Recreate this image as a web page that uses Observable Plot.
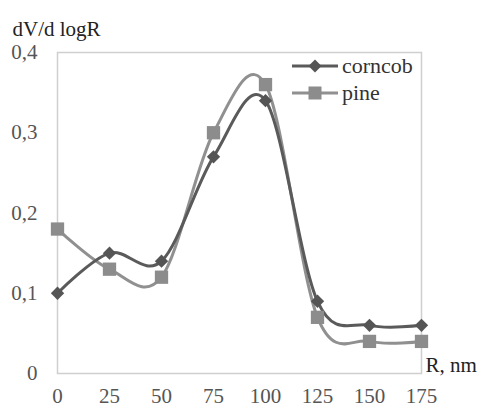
<!DOCTYPE html>
<html>
<head>
<meta charset="utf-8">
<script src="https://cdn.jsdelivr.net/npm/d3@7"></script>
<script src="https://cdn.jsdelivr.net/npm/@observablehq/plot@0.6"></script>
<style>
  html, body { margin: 0; padding: 0; background: #fff; }
  #wrap { position: relative; width: 482px; height: 407px; }
  #legend { position: absolute; left: 292px; top: 52px; }
  #legend .row { display: flex; align-items: center; height: 27px; }
</style>
</head>
<body>
<div id="wrap"></div>
<script>
const radius = [0, 25, 50, 75, 100, 125, 150, 175];
const corncob = [0.10, 0.15, 0.14, 0.27, 0.34, 0.09, 0.06, 0.06];
const pine = [0.18, 0.13, 0.12, 0.30, 0.36, 0.07, 0.04, 0.04];
const xTicks = [0, 25, 50, 75, 100, 125, 150, 175];
const yTicks = [0, 0.1, 0.2, 0.3, 0.4];
const seriesNames = ["corncob", "pine"];
const lineColors = {corncob: "#5a5a5a", pine: "#909090"};
const markColors = {corncob: "#555555", pine: "#8c8c8c"};
const FONT = "'Liberation Serif', 'Times New Roman', serif";

const rows = [];
radius.forEach((r, i) => {
  rows.push({series: "corncob", R: r, v: corncob[i]});
  rows.push({series: "pine", R: r, v: pine[i]});
});
const fmt = d => d === 0 ? "0" : d3.format(".1f")(d).replace(".", ",");

const chart = Plot.plot({
  width: 482,
  height: 407,
  marginLeft: 57,
  marginRight: 61,
  marginTop: 52,
  marginBottom: 34,
  style: `font-family: ${FONT}; font-size: 21px; color: #555; background: #fff; overflow: visible;`,
  x: {domain: [0, 175], ticks: xTicks, tickSize: 0, tickPadding: 15, label: null},
  y: {domain: [0, 0.4], ticks: yTicks, tickSize: 0, tickPadding: 20, tickFormat: fmt, label: null},
  marks: [
    Plot.frame({stroke: "#cfcfcf", strokeWidth: 1.5}),
    Plot.line(rows.filter(d => d.series === "pine"), {x: "R", y: "v", stroke: lineColors.pine, strokeWidth: 3, curve: "cardinal", tension: 0}),
    Plot.line(rows.filter(d => d.series === "corncob"), {x: "R", y: "v", stroke: lineColors.corncob, strokeWidth: 3, curve: "cardinal", tension: 0}),
    Plot.dot(rows.filter(d => d.series === "pine"), {x: "R", y: "v", symbol: "square", r: 7.5, fill: markColors.pine, stroke: "none"}),
    Plot.dot(rows.filter(d => d.series === "corncob"), {x: "R", y: "v", symbol: "diamond2", r: 6, fill: markColors.corncob, stroke: "none"}),
    Plot.text(["dV/d logR"], {frameAnchor: "top-left", dx: -45, dy: -31.5, textAnchor: "start", fontSize: 21, fontFamily: FONT, fill: "#222"}),
    Plot.text(["R, nm"], {frameAnchor: "bottom-right", dx: 4, dy: -1.5, textAnchor: "start", fontSize: 21, fontFamily: FONT, fill: "#222"})
  ]
});
chart.style.fontFamily = FONT;
const wrap = document.getElementById("wrap");
wrap.appendChild(chart);

const legend = document.createElement("div");
legend.id = "legend";
seriesNames.forEach(name => {
  const row = document.createElement("div");
  row.className = "row";
  const sym = name === "corncob"
    ? `<polygon points="23,0.5 29.5,7 23,13.5 16.5,7" fill="${markColors.corncob}"/>`
    : `<rect x="16.5" y="0.5" width="13" height="13" fill="${markColors.pine}"/>`;
  row.innerHTML = `<svg width="50" height="14" style="display:block"><line x1="0" x2="46" y1="7" y2="7" stroke="${lineColors[name]}" stroke-width="3"/>${sym}</svg><span style="font-family:${FONT.replace(/'/g, '&quot;')};font-size:22px;color:#333;line-height:27px">${name}</span>`;
  legend.appendChild(row);
});
wrap.appendChild(legend);
</script>
</body>
</html>
